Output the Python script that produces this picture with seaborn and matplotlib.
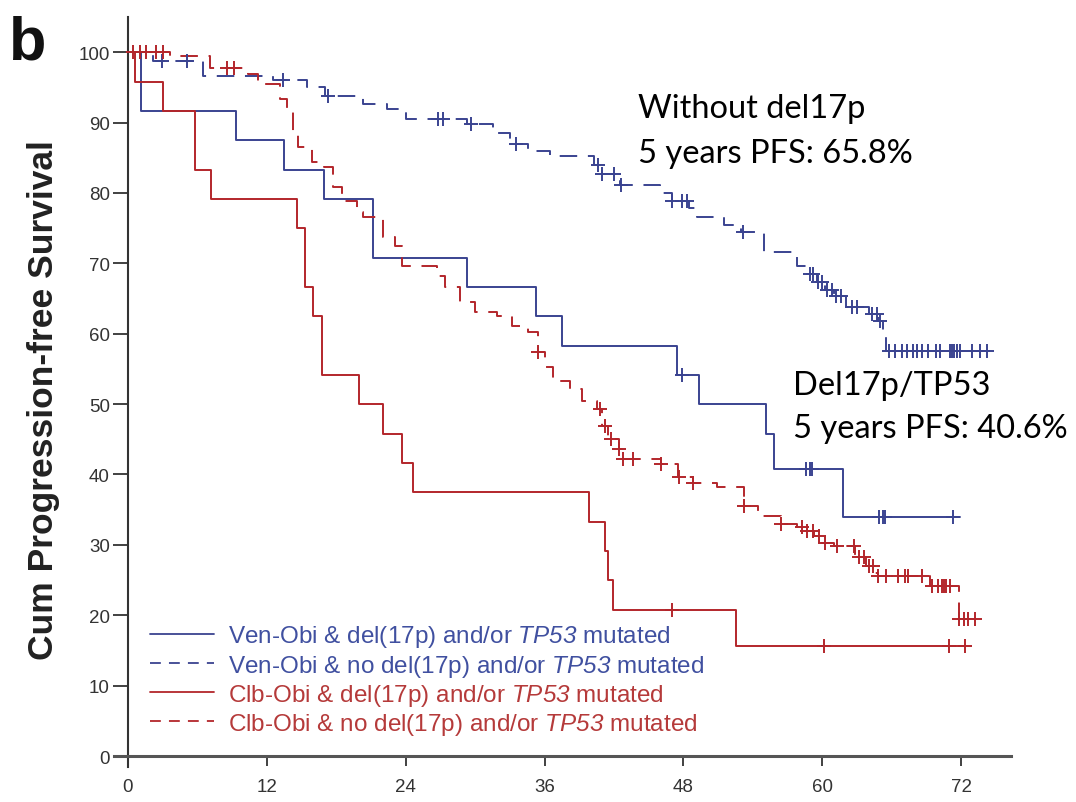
import numpy as np
import pandas as pd
import matplotlib
matplotlib.use("Agg")
import matplotlib.pyplot as plt
from matplotlib.lines import Line2D
import seaborn as sns

# ---------------- data ----------------
# Ven-Obi & del(17p)/TP53 (blue solid)
ven_del_t = [0, 1.1, 9.3, 13.5, 16.9, 21.2, 29.3, 35.3, 37.5, 47.4, 49.3, 55.1, 55.8, 61.8]
ven_del_s = [100, 91.7, 87.5, 83.3, 79.2, 70.8, 66.7, 62.5, 58.3, 54.2, 50.0, 45.8, 40.8, 34.0]
ven_del_end = 71.9
ven_del_cens = [47.9, 58.6, 58.9, 59.1, 64.9, 65.2, 65.4, 71.3]

# Ven-Obi & no del(17p)/TP53 (blue dashed)
ven_nodel_t = [0, 2.2, 6.5, 12.5, 15.5, 17.0, 20.3, 22.4, 24.0, 29.3, 31.5, 33.0, 34.6, 36.5,
               40.3, 41.0, 42.5, 46.0, 47.0, 48.5, 49.2, 51.5, 53.0, 55.0, 57.8, 58.8, 59.5,
               60.2, 61.0, 62.0, 64.0, 64.8, 65.2, 65.5]
ven_nodel_s = [100, 98.7, 96.6, 96.0, 95.0, 93.8, 92.6, 91.9, 90.5, 89.8, 88.5, 87.0, 86.0, 85.2,
               84.0, 82.7, 81.2, 80.0, 78.8, 77.8, 76.6, 75.5, 74.4, 71.6, 69.6, 68.5, 67.3,
               66.2, 65.3, 63.8, 62.8, 61.8, 59.7, 57.5]
ven_nodel_end = 74.5
ven_nodel_cens = [2.9, 5.1, 13.4, 17.3, 26.8, 27.2, 29.6, 33.5, 40.6, 41.0, 42.0, 42.6, 47.0,
                  47.9, 48.3, 53.1, 58.9, 59.2, 59.6, 60.0, 60.4, 60.8, 61.2, 61.6, 62.6, 63.0,
                  64.3, 64.7, 65.0, 65.8, 66.3, 66.9, 67.3, 67.8, 68.2, 68.6, 69.1, 69.8, 70.2,
                  71.0, 71.2, 71.4, 71.6, 71.9, 72.9, 73.6, 74.2]

# Clb-Obi & del(17p)/TP53 (red solid)
clb_del_t = [0, 0.6, 3.0, 5.8, 7.2, 14.6, 15.3, 16.0, 16.8, 20.0, 22.0, 23.7, 24.6,
             39.8, 41.2, 41.5, 41.9, 52.5]
clb_del_s = [100, 95.8, 91.7, 83.3, 79.2, 75.0, 66.7, 62.5, 54.2, 50.0, 45.8, 41.7, 37.5,
             33.3, 29.2, 25.0, 20.8, 15.6]
clb_del_end = 72.3
clb_del_cens = [47.0, 60.1, 70.9, 72.3]

# Clb-Obi & no del(17p)/TP53 (red dashed)
clb_nodel_t = [0, 3.6, 7.1, 10.4, 11.2, 13.1, 13.7, 14.3, 14.7, 15.9, 16.9, 17.7, 18.5, 19.8,
               20.3, 22.0, 23.1, 23.7, 26.7, 27.4, 28.7, 30.0, 31.9, 33.2, 34.6, 35.4, 36.0,
               36.7, 38.2, 39.2, 40.5, 41.0, 41.5, 42.4, 42.8, 46.1, 47.5, 48.8, 50.9, 53.2,
               54.4, 56.4, 57.8, 58.5, 59.3, 60.0, 61.0, 62.8, 63.8, 64.5, 64.8, 69.3, 71.8]
clb_nodel_s = [100, 99.4, 97.8, 96.9, 95.5, 93.3, 91.6, 88.6, 86.5, 84.4, 83.7, 80.8, 78.8, 77.3,
               76.6, 73.7, 72.4, 69.6, 68.2, 66.6, 64.5, 63.1, 62.5, 61.1, 60.2, 57.4, 55.3,
               53.3, 52.1, 50.4, 49.3, 46.9, 45.0, 43.6, 42.2, 41.5, 39.6, 38.8, 38.2, 35.5,
               34.1, 33.0, 32.5, 32.0, 31.2, 30.3, 29.8, 28.3, 27.0, 26.0, 25.6, 24.2, 19.5]
clb_nodel_end = 73.2
clb_nodel_cens = [0.4, 1.0, 1.6, 2.4, 3.0, 8.6, 9.2, 35.4, 40.8, 41.2, 41.7, 42.4, 42.8, 43.6,
                  46.1, 47.6, 48.8, 53.2, 56.4, 58.2, 58.7, 59.2, 59.7, 60.2, 61.3, 62.7, 63.2,
                  63.6, 64.0, 64.4, 64.8, 65.5, 66.5, 67.1, 67.4, 68.6, 69.5, 70.0, 70.3, 70.5,
                  70.7, 71.0, 71.8, 72.2, 72.6, 73.2]

legend_labels = [
    r"Ven-Obi & del(17p) and/or $\mathsf{TP53}$ mutated",
    r"Ven-Obi & no del(17p) and/or $\mathsf{TP53}$ mutated",
    r"Clb-Obi & del(17p) and/or $\mathsf{TP53}$ mutated",
    r"Clb-Obi & no del(17p) and/or $\mathsf{TP53}$ mutated",
]
x_ticks = [0, 12, 24, 36, 48, 60, 72]
y_ticks = list(range(0, 101, 10))
y_label = "Cum Progression-free Survival"
annot1 = ["Without del17p", "5 years PFS: 65.8%"]
annot2 = ["Del17p/TP53", "5 years PFS: 40.6%"]

# ---------------- styling ----------------
BLUE = "#3a4390"
RED = "#b3262b"
BLUE_TXT = "#4050a0"
RED_TXT = "#b53a3a"

sns.set_theme(style="white")
plt.rcParams["font.family"] = ["Liberation Sans", "DejaVu Sans"]
plt.rcParams["mathtext.fontset"] = "custom"
plt.rcParams["mathtext.rm"] = "Liberation Sans"
plt.rcParams["mathtext.it"] = "Liberation Sans:italic"
plt.rcParams["mathtext.sf"] = "Liberation Sans:italic"

fig = plt.figure(figsize=(10.76, 8.03), dpi=100)
ax = fig.add_axes([0.106, 0.0441, 0.8336, 0.9335])

DASH = (0, (9, 5.5))
LW = 1.4

curves = [
    (ven_del_t, ven_del_s, ven_del_end, ven_del_cens, BLUE, "-"),
    (ven_nodel_t, ven_nodel_s, ven_nodel_end, ven_nodel_cens, BLUE, DASH),
    (clb_del_t, clb_del_s, clb_del_end, clb_del_cens, RED, "-"),
    (clb_nodel_t, clb_nodel_s, clb_nodel_end, clb_nodel_cens, RED, DASH),
]

for t, s, t_end, cens, col, ls in curves:
    t_arr = np.array(t + [t_end], dtype=float)
    s_arr = np.array(s + [s[-1]], dtype=float)
    df = pd.DataFrame({"time": t_arr, "surv": s_arr})
    sns.lineplot(data=df, x="time", y="surv", ax=ax, color=col, linewidth=LW,
                 linestyle=ls, drawstyle="steps-post", estimator=None, sort=False,
                 legend=False)
    c = np.array(cens, dtype=float)
    idx = np.searchsorted(np.array(t, dtype=float), c, side="right") - 1
    cdf = pd.DataFrame({"time": c, "surv": np.array(s, dtype=float)[idx]})
    sns.scatterplot(data=cdf, x="time", y="surv", ax=ax, color=col, marker="+",
                    s=90, linewidth=1.4, legend=False, zorder=3)

ax.set_xlim(-1.2, 76.3)
ax.set_ylim(-1.5, 105)
ax.spines["left"].set_position(("data", 0))
ax.spines["bottom"].set_position(("data", 0))
ax.spines["top"].set_visible(False)
ax.spines["right"].set_visible(False)
ax.spines["left"].set_color("#333333")
ax.spines["left"].set_linewidth(1.5)
ax.spines["bottom"].set_color("#555555")
ax.spines["bottom"].set_linewidth(2.2)
ax.spines["bottom"].set_bounds(-1.2, 76.3)

ax.set_xticks(x_ticks)
ax.set_yticks(y_ticks)
ax.tick_params(axis="y", direction="out", length=11, width=1.3, color="#333333",
               labelsize=13.5, labelcolor="#333333", pad=2, left=True)
ax.tick_params(axis="x", direction="out", length=7.5, width=1.3, color="#333333",
               labelsize=13.5, labelcolor="#333333", pad=8, bottom=True)
ax.set_xlabel("")
ax.set_ylabel("")

fig.text(0.040, 0.502, y_label, rotation=90, ha="center", va="center",
         fontsize=25.5, fontweight="bold", color="#222222")
fig.text(0.008, 0.926, "b", fontsize=44, fontweight="bold", color="#111111",
         ha="left", va="baseline")

ann_font = ["Lato", "DejaVu Sans"]
ax.text(44.1, 90.8, annot1[0], fontsize=23.5, family=ann_font, color="black",
        ha="left", va="baseline")
ax.text(44.1, 84.4, annot1[1], fontsize=23.5, family=ann_font, color="black",
        ha="left", va="baseline")
ax.text(57.5, 51.4, annot2[0], fontsize=23.5, family=ann_font, color="black",
        ha="left", va="baseline")
ax.text(57.5, 45.3, annot2[1], fontsize=23.5, family=ann_font, color="black",
        ha="left", va="baseline")

handles = [
    Line2D([], [], color=BLUE, lw=1.3, ls="-"),
    Line2D([], [], color=BLUE, lw=1.3, ls=(0, (6, 4.5))),
    Line2D([], [], color=RED, lw=1.3, ls="-"),
    Line2D([], [], color=RED, lw=1.3, ls=(0, (6, 4.5))),
]
leg = ax.legend(handles, legend_labels, loc="upper left", bbox_to_anchor=(0.040, 0.191),
                frameon=False, fontsize=17.5, handlelength=2.65, handletextpad=0.55,
                labelspacing=0.13, borderpad=0, borderaxespad=0)
for txt, col in zip(leg.get_texts(), [BLUE_TXT, BLUE_TXT, RED_TXT, RED_TXT]):
    txt.set_color(col)

fig.savefig("out.png", dpi=100)
